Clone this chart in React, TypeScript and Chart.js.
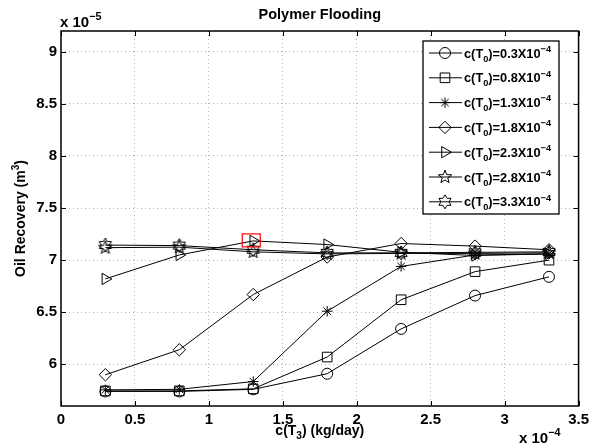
import React, { useEffect, useRef } from 'react';
import { Chart, registerables } from 'chart.js';
import { drawPoint } from 'chart.js/helpers';

Chart.register(...registerables);

const xValues = [0.3, 0.8, 1.3, 1.8, 2.3, 2.8, 3.3];
const seriesNames = ['0.3', '0.8', '1.3', '1.8', '2.3', '2.8', '3.3'];
const s03 = [5.74, 5.74, 5.76, 5.91, 6.34, 6.66, 6.84];
const s08 = [5.745, 5.745, 5.765, 6.07, 6.62, 6.89, 7.0];
const s13 = [5.755, 5.76, 5.835, 6.51, 6.94, 7.05, 7.06];
const s18 = [5.9, 6.14, 6.67, 7.03, 7.16, 7.135, 7.1];
const s23 = [6.82, 7.05, 7.185, 7.15, 7.075, 7.045, 7.06];
const s28 = [7.12, 7.125, 7.08, 7.06, 7.065, 7.065, 7.07];
const s33 = [7.145, 7.14, 7.1, 7.07, 7.07, 7.075, 7.08];
const xTicks = [0, 0.5, 1, 1.5, 2, 2.5, 3, 3.5];
const yTicks = [6, 6.5, 7, 7.5, 8, 8.5, 9];

const FONT = '"Liberation Sans", Arial, Helvetica, sans-serif';

function makeStar(points: number, outer: number, innerRatio: number): HTMLCanvasElement {
  const size = Math.ceil(outer * 2 + 4);
  const c = document.createElement('canvas');
  c.width = size;
  c.height = size;
  const ctx = c.getContext('2d')!;
  const cx = size / 2;
  const cy = size / 2;
  ctx.beginPath();
  for (let i = 0; i < points * 2; i++) {
    const r = i % 2 === 0 ? outer : outer * innerRatio;
    const a = -Math.PI / 2 + (i * Math.PI) / points;
    const px = cx + r * Math.cos(a);
    const py = cy + r * Math.sin(a);
    if (i === 0) ctx.moveTo(px, py);
    else ctx.lineTo(px, py);
  }
  ctx.closePath();
  ctx.strokeStyle = '#000';
  ctx.lineWidth = 1;
  ctx.stroke();
  return c;
}

type Part = { t: string; s?: 'sub' | 'sup' };

function drawRich(ctx: CanvasRenderingContext2D, parts: Part[], x: number, y: number, size: number, align: 'left' | 'center' | 'right') {
  const widths = parts.map((p) => {
    ctx.font = `bold ${p.s ? size * 0.72 : size}px ${FONT}`;
    return ctx.measureText(p.t).width;
  });
  const total = widths.reduce((a, b) => a + b, 0);
  let cx = align === 'center' ? x - total / 2 : align === 'right' ? x - total : x;
  ctx.textAlign = 'left';
  ctx.textBaseline = 'alphabetic';
  parts.forEach((p, i) => {
    ctx.font = `bold ${p.s ? size * 0.72 : size}px ${FONT}`;
    const dy = p.s === 'sub' ? size * 0.32 : p.s === 'sup' ? -size * 0.45 : 0;
    ctx.fillText(p.t, cx, y + dy);
    cx += widths[i];
  });
}

export default function App() {
  const ref = useRef<HTMLCanvasElement | null>(null);

  useEffect(() => {
    if (!ref.current) return;
    const pentagram = makeStar(5, 7, 0.42);
    const hexagram = makeStar(6, 7, 0.58);
    const allSeries = [s03, s08, s13, s18, s23, s28, s33];
    const styles: any[] = [
      { pointStyle: 'circle', radius: 5.5, rotation: 0 },
      { pointStyle: 'rect', radius: 6.8, rotation: 0 },
      { pointStyle: 'star', radius: 5.2, rotation: 0 },
      { pointStyle: 'rectRot', radius: 6.2, rotation: 0 },
      { pointStyle: 'triangle', radius: 6.5, rotation: 90 },
      { pointStyle: pentagram, radius: 7, rotation: 0 },
      { pointStyle: hexagram, radius: 7, rotation: 0 },
    ];

    const datasets = allSeries.map((arr, k) => ({
      label: `c(T0)=${seriesNames[k]}X10^-4`,
      data: xValues.map((x, i) => ({ x, y: arr[i] })),
      borderColor: '#000',
      borderWidth: 1,
      pointStyle: styles[k].pointStyle,
      pointRadius: styles[k].radius,
      pointRotation: styles[k].rotation,
      pointBorderColor: '#000',
      pointBorderWidth: 1,
      pointBackgroundColor: 'rgba(0,0,0,0)',
      fill: false,
      tension: 0,
    }));

    const decor = {
      id: 'decor',
      afterDraw(chart: any) {
        const ctx: CanvasRenderingContext2D = chart.ctx;
        const a = chart.chartArea;
        const xs = chart.scales.x;
        const ys = chart.scales.y;
        ctx.save();
        ctx.fillStyle = '#000';
        ctx.strokeStyle = '#000';

        // inward tick marks
        ctx.lineWidth = 1;
        ctx.beginPath();
        xTicks.forEach((v) => {
          const px = Math.round(xs.getPixelForValue(v)) + 0.5;
          ctx.moveTo(px, a.bottom);
          ctx.lineTo(px, a.bottom - 5);
          ctx.moveTo(px, a.top);
          ctx.lineTo(px, a.top + 5);
        });
        yTicks.forEach((v) => {
          const py = Math.round(ys.getPixelForValue(v)) + 0.5;
          ctx.moveTo(a.left, py);
          ctx.lineTo(a.left + 5, py);
          ctx.moveTo(a.right, py);
          ctx.lineTo(a.right - 5, py);
        });
        ctx.stroke();

        // box
        ctx.lineWidth = 1.5;
        ctx.strokeRect(a.left, a.top, a.right - a.left, a.bottom - a.top);

        // highlight rectangle around triangle marker at third point
        const el = chart.getDatasetMeta(4).data[2];
        if (el) {
          ctx.strokeStyle = '#ff0000';
          ctx.lineWidth = 1.2;
          ctx.strokeRect(el.x - 11, el.y - 7, 18, 13);
          ctx.strokeStyle = '#000';
        }

        // legend
        const lx = 423, ly = 41, lw = 136, lh = 173;
        ctx.fillStyle = '#fff';
        ctx.fillRect(lx, ly, lw, lh);
        ctx.lineWidth = 1.3;
        ctx.strokeStyle = '#000';
        ctx.strokeRect(lx, ly, lw, lh);
        ctx.fillStyle = '#000';
        datasets.forEach((d, k) => {
          const ry = 53 + k * 24.8;
          ctx.lineWidth = 1;
          ctx.beginPath();
          ctx.moveTo(429, ry);
          ctx.lineTo(462, ry);
          ctx.stroke();
          ctx.save();
          ctx.strokeStyle = '#000';
          ctx.fillStyle = 'rgba(0,0,0,0)';
          ctx.lineWidth = 1;
          drawPoint(ctx, { pointStyle: d.pointStyle, radius: d.pointRadius, rotation: d.pointRotation, borderWidth: 1 } as any, 445, ry);
          ctx.restore();
          ctx.fillStyle = '#000';
          drawRich(ctx, [{ t: 'c(T' }, { t: '0', s: 'sub' }, { t: `)=${seriesNames[k]}X10` }, { t: '−4', s: 'sup' }], 464, ry + 4.5, 12.8, 'left');
        });

        // title
        ctx.fillStyle = '#000';
        ctx.font = `bold 14.5px ${FONT}`;
        ctx.textAlign = 'center';
        ctx.textBaseline = 'alphabetic';
        ctx.fillText('Polymer Flooding', (a.left + a.right) / 2, 18.5);

        // exponent labels
        drawRich(ctx, [{ t: 'x 10' }, { t: '−5', s: 'sup' }], 60, 27, 15, 'left');
        drawRich(ctx, [{ t: 'x 10' }, { t: '−4', s: 'sup' }], 519, 443, 15, 'left');

        // x-axis title
        drawRich(ctx, [{ t: 'c(T' }, { t: '3', s: 'sub' }, { t: ') (kg/day)' }], (a.left + a.right) / 2, 435, 14, 'center');

        // y-axis title
        ctx.save();
        ctx.translate(25, (a.top + a.bottom) / 2);
        ctx.rotate(-Math.PI / 2);
        drawRich(ctx, [{ t: 'Oil Recovery (m' }, { t: '3', s: 'sup' }, { t: ')' }], 0, 0, 14, 'center');
        ctx.restore();

        ctx.restore();
      },
    };

    const chart = new Chart(ref.current, {
      type: 'line',
      data: { datasets },
      options: {
        animation: false,
        responsive: false,
        events: [],
        layout: { padding: { top: 31, right: 12, left: 0, bottom: 0 } },
        plugins: { legend: { display: false }, title: { display: false }, tooltip: { enabled: false } },
        scales: {
          x: {
            type: 'linear',
            min: 0,
            max: 3.5,
            afterBuildTicks: (s: any) => {
              s.ticks = xTicks.map((v) => ({ value: v }));
            },
            afterFit: (s: any) => {
              s.height = 42;
            },
            ticks: {
              autoSkip: false,
              maxRotation: 0,
              padding: 5,
              color: '#000',
              font: { family: FONT, weight: 'bold', size: 15 },
              callback: (v: any) => String(v),
            },
            grid: { color: '#b4b4b4', lineWidth: 1, drawTicks: false },
            border: { display: false, dash: [1, 3] },
          },
          y: {
            type: 'linear',
            min: 5.6,
            max: 9.2,
            afterBuildTicks: (s: any) => {
              s.ticks = yTicks.map((v) => ({ value: v }));
            },
            afterFit: (s: any) => {
              s.width = 61;
            },
            ticks: {
              autoSkip: false,
              padding: 4,
              color: '#000',
              font: { family: FONT, weight: 'bold', size: 15 },
              callback: (v: any) => String(v),
            },
            grid: { color: '#b4b4b4', lineWidth: 1, drawTicks: false },
            border: { display: false, dash: [1, 3] },
          },
        },
      } as any,
      plugins: [decor],
    });
    return () => chart.destroy();
  }, []);

  return (
    <div style={{ position: 'absolute', left: 0, top: 0, width: 594, height: 448, background: '#fff' }}>
      <canvas ref={ref} width={594} height={448} style={{ width: 594, height: 448 }} />
    </div>
  );
}
